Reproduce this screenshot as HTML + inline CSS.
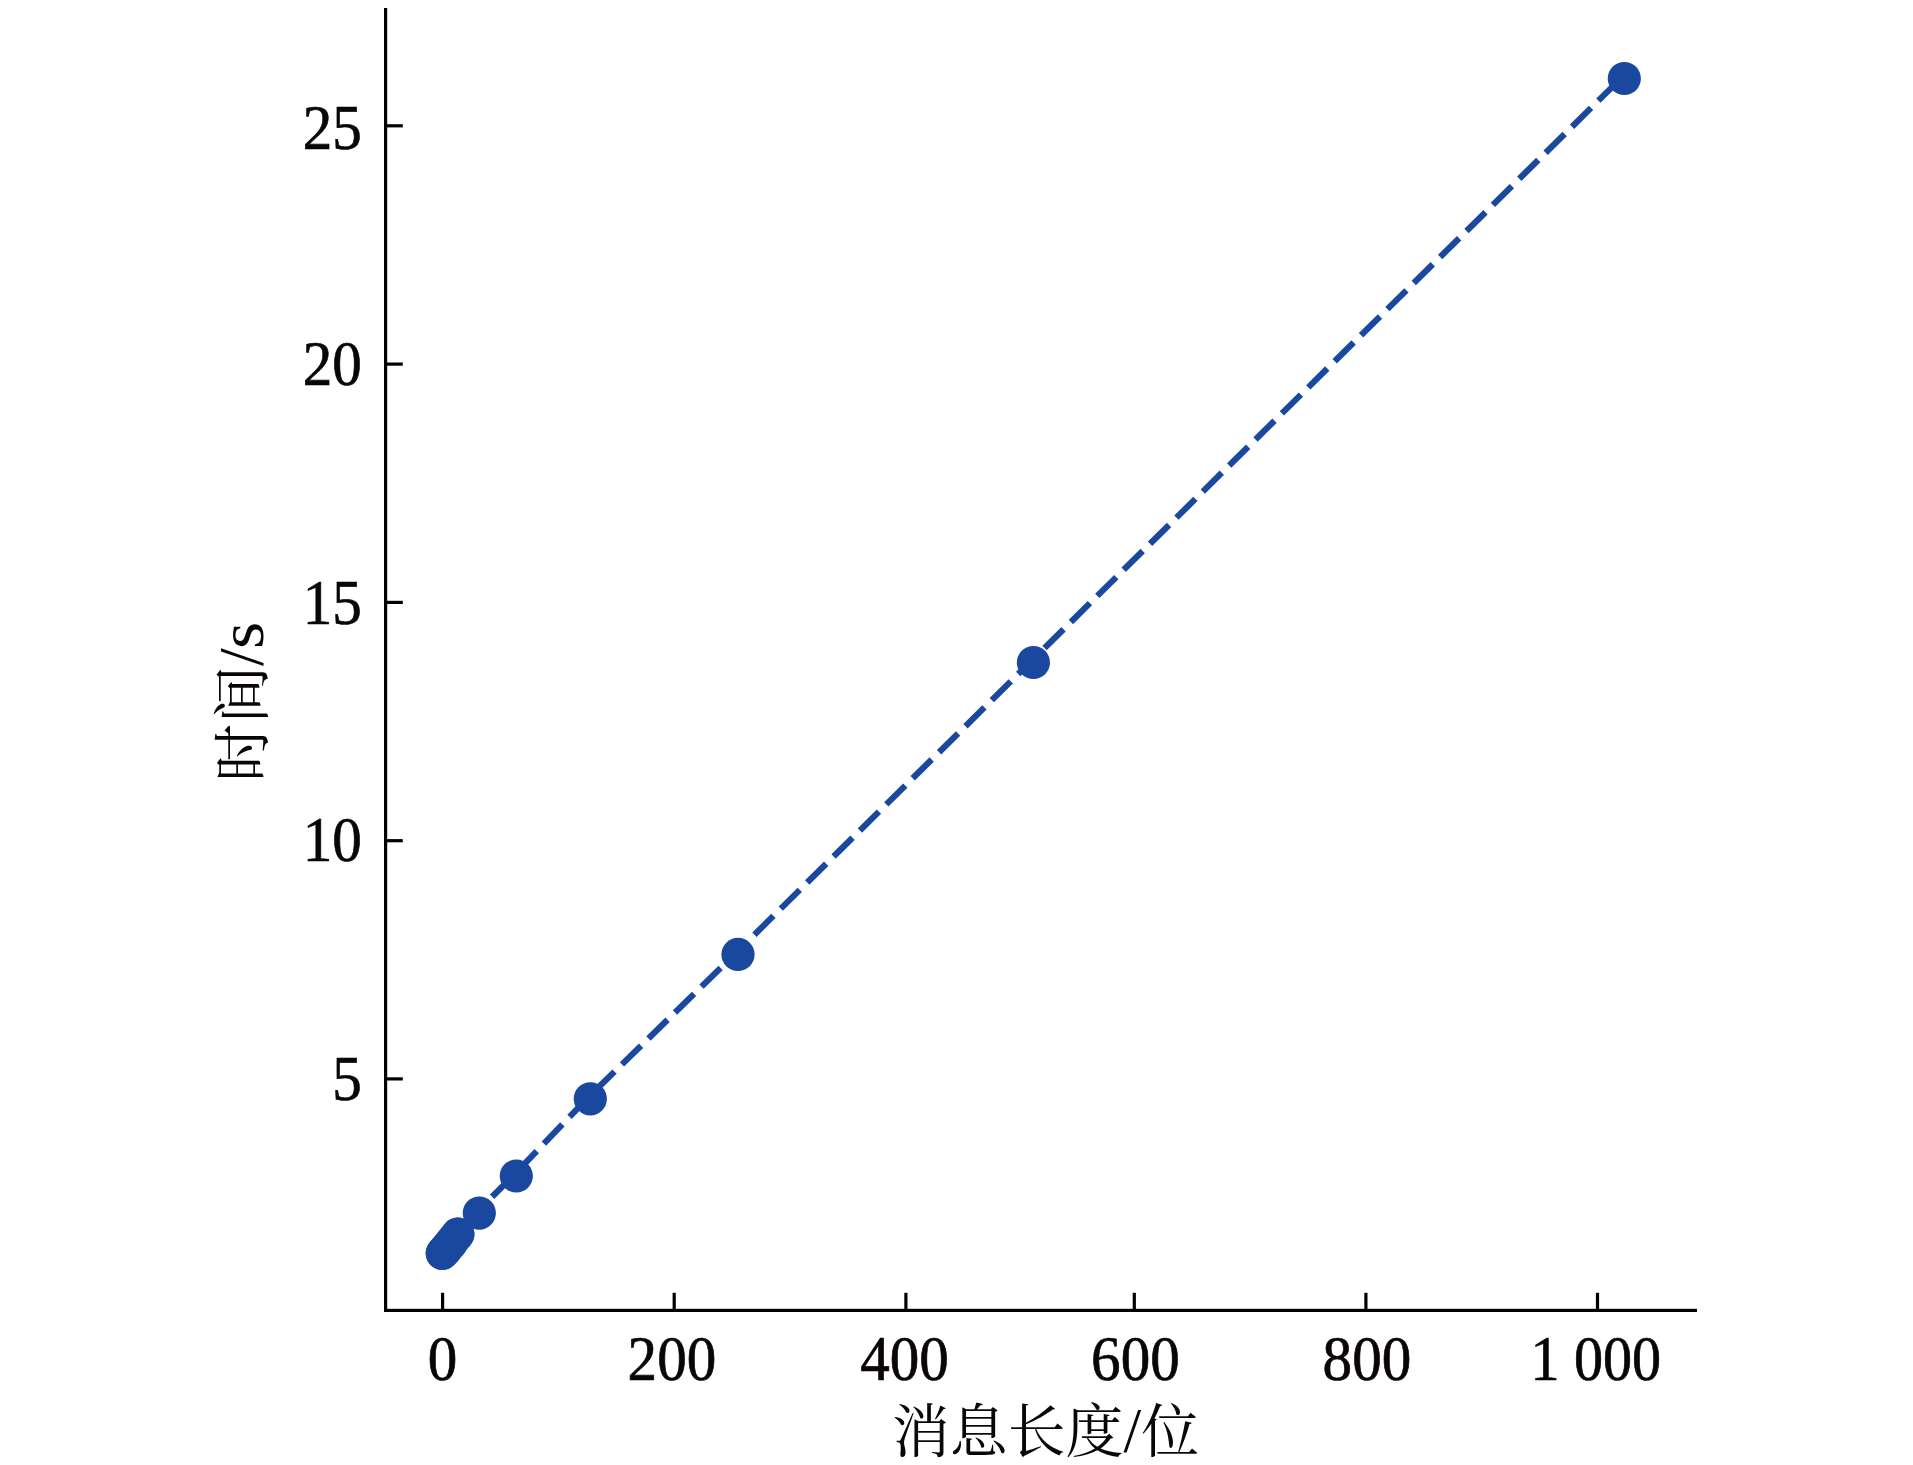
<!DOCTYPE html>
<html lang="zh-CN">
<head>
<meta charset="utf-8">
<title>消息长度与时间</title>
<style>
html,body{margin:0;padding:0;background:#fff;}
body{width:1913px;height:1465px;overflow:hidden;}
svg{display:block;filter:blur(0.7px);}
text{font-family:"Liberation Serif","Noto Serif CJK SC",serif;fill:#0b0606;}
.num text{font-size:62.5px;stroke:#0b0606;stroke-width:0.7px;}
.cjk{font-size:57.9px;}
.lat{font-size:63.5px;}
</style>
</head>
<body>
<svg width="1913" height="1465" viewBox="0 0 1913 1465">
<rect width="1913" height="1465" fill="#ffffff"/>
<g fill="#000000">
<rect x="384" y="8" width="3.2" height="1304"/>
<rect x="384" y="1308.8" width="1313" height="3.2"/>
<rect x="441.0" y="1292.8" width="3.2" height="17.5"/>
<rect x="672.6" y="1292.8" width="3.2" height="17.5"/>
<rect x="904.3" y="1292.8" width="3.2" height="17.5"/>
<rect x="1132.7" y="1292.8" width="3.2" height="17.5"/>
<rect x="1364.3" y="1292.8" width="3.2" height="17.5"/>
<rect x="1595.9" y="1292.8" width="3.2" height="17.5"/>
<rect x="386" y="1077.3" width="16.8" height="3.2"/>
<rect x="386" y="839.1" width="16.8" height="3.2"/>
<rect x="386" y="600.8" width="16.8" height="3.2"/>
<rect x="386" y="362.5" width="16.8" height="3.2"/>
<rect x="386" y="124.2" width="16.8" height="3.2"/>
</g>
<polyline points="440.6,1251.5 441.6,1250.2 444.3,1247.6 448.9,1242.3 456.1,1232.4 477.6,1211.3 514.6,1174.2 588.6,1097.0 736.3,952.6 1031.7,660.7 1622.6,76.7" fill="none" stroke="#19489e" stroke-width="6.2" stroke-dasharray="26.7 10.38" stroke-dashoffset="-1.2"/>
<line x1="442.3" y1="1253.3" x2="457.8" y2="1234.2" stroke="#19489e" stroke-width="33.2" stroke-linecap="round"/>
<g fill="#19489e">
<circle cx="442.3" cy="1253.3" r="16.6"/>
<circle cx="443.3" cy="1252.0" r="16.6"/>
<circle cx="446.0" cy="1249.4" r="16.6"/>
<circle cx="450.6" cy="1244.1" r="16.6"/>
<circle cx="457.8" cy="1234.2" r="16.6"/>
<circle cx="479.3" cy="1213.1" r="16.6"/>
<circle cx="516.3" cy="1176.0" r="16.6"/>
<circle cx="590.3" cy="1098.8" r="16.6"/>
<circle cx="738.0" cy="954.4" r="16.6"/>
<circle cx="1033.4" cy="662.5" r="16.6"/>
<circle cx="1624.3" cy="78.5" r="16.6"/>
</g>
<g class="num">
<text transform="translate(442.4,1379.9) scale(0.945,1)" text-anchor="middle">0</text>
<text transform="translate(671.9,1379.9) scale(0.945,1)" text-anchor="middle">200</text>
<text transform="translate(904.6,1379.9) scale(0.945,1)" text-anchor="middle">400</text>
<text transform="translate(1135.4,1379.9) scale(0.945,1)" text-anchor="middle">600</text>
<text transform="translate(1366.9,1379.9) scale(0.945,1)" text-anchor="middle">800</text>
<text transform="translate(1595.8,1379.9) scale(0.93,1)" text-anchor="middle">1 000</text>
<text transform="translate(361.8,1099.6) scale(0.945,1)" text-anchor="end">5</text>
<text transform="translate(361.8,861.4) scale(0.945,1)" text-anchor="end">10</text>
<text transform="translate(361.8,624.4) scale(0.945,1)" text-anchor="end">15</text>
<text transform="translate(361.8,385.3) scale(0.945,1)" text-anchor="end">20</text>
<text transform="translate(361.8,148.5) scale(0.945,1)" text-anchor="end">25</text>
</g>
<text class="cjk" x="1045.5" y="1452" text-anchor="middle">消息长度<tspan class="lat">/</tspan>位</text>
<text class="cjk" transform="translate(263,781.7) rotate(-90)">时间<tspan class="lat">/</tspan></text>
<text class="lat" transform="translate(263,649) rotate(-90) scale(1.1,1)">s</text>
</svg>
</body>
</html>
